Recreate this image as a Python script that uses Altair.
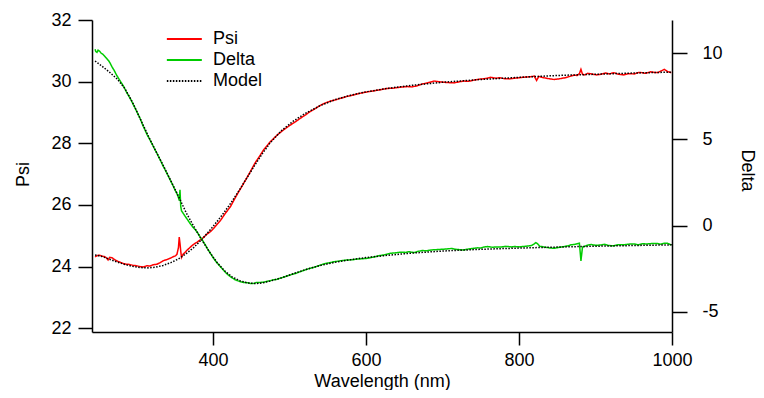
import altair as alt
import pandas as pd

# ---------------- data ----------------
psi_wl = [246, 249, 252, 255, 258, 261, 263, 265, 268, 272, 276, 280, 283, 287, 291, 296, 300, 305, 309, 314,
          318, 322, 327, 331, 335, 340, 344, 348, 351, 353, 355, 356, 357, 358, 359, 361, 363, 366, 370, 374,
          379, 383, 388, 392, 397, 401, 405, 410, 416, 423, 428, 433, 439, 445, 450, 455, 461, 466, 471, 475,
          480, 484, 492, 501, 508, 514, 521, 527, 534, 541, 547, 554, 560, 567, 575, 584, 592, 602, 610, 619,
          628, 636, 645, 654, 660, 666, 673, 680, 685, 689, 695, 702, 708, 715, 721, 728, 734, 741, 748, 756,
          763, 770, 775, 780, 787, 794, 801, 809, 815, 820, 823, 826, 830, 838, 846, 852, 859, 865, 872, 876,
          879, 881, 883, 886, 890, 895, 901, 907, 913, 918, 924, 930, 937, 943, 951, 955, 959, 965, 972, 977,
          982, 986, 990, 994, 999]
psi_val = [24.32, 24.36, 24.37, 24.34, 24.33, 24.28, 24.22, 24.30, 24.29, 24.22, 24.17, 24.13, 24.10, 24.08, 24.07, 24.04, 24.03, 24.00, 23.99, 24.03,
           24.02, 24.06, 24.08, 24.13, 24.19, 24.23, 24.27, 24.32, 24.35, 24.40, 24.62, 24.96, 24.75, 24.50, 24.30, 24.40, 24.45, 24.53, 24.62, 24.71,
           24.79, 24.86, 24.95, 25.05, 25.14, 25.24, 25.36, 25.50, 25.72, 25.95, 26.18, 26.40, 26.65, 26.91, 27.13, 27.36, 27.58, 27.78, 27.93, 28.05,
           28.17, 28.27, 28.43, 28.59, 28.70, 28.81, 28.92, 29.03, 29.13, 29.24, 29.31, 29.37, 29.41, 29.46, 29.52, 29.57, 29.62, 29.67, 29.70, 29.74,
           29.78, 29.79, 29.82, 29.84, 29.83, 29.86, 29.92, 29.96, 29.99, 30.02, 30.00, 29.98, 29.97, 29.96, 29.99, 30.02, 30.01, 30.05, 30.08, 30.10,
           30.14, 30.11, 30.13, 30.10, 30.09, 30.11, 30.13, 30.15, 30.16, 30.18, 30.04, 30.17, 30.14, 30.10, 30.07, 30.09, 30.12, 30.16, 30.21, 30.20,
           30.26, 30.40, 30.24, 30.22, 30.27, 30.25, 30.22, 30.24, 30.28, 30.25, 30.29, 30.24, 30.22, 30.26, 30.25, 30.29, 30.30, 30.27, 30.32, 30.30,
           30.30, 30.35, 30.40, 30.33, 30.29]

delta_wl = [246, 247, 248.5, 250, 252, 254, 256, 258, 261, 264, 266, 268, 271, 274, 278, 283, 287, 292, 296, 300,
            305, 309, 314, 318, 322, 327, 331, 335, 340, 344, 348, 351, 353, 355, 356, 357, 358, 359, 361, 364,
            367, 370, 374, 377, 380, 383, 387, 390, 393, 397, 400, 403, 406, 410, 413, 416, 419, 423, 426, 429,
            432, 436, 440, 445, 449, 453, 457, 462, 466, 471, 475, 479, 484, 488, 494, 501, 508, 514, 521, 527,
            534, 541, 547, 554, 558, 565, 575, 582, 588, 595, 602, 610, 616, 624, 632, 638, 645, 652, 656, 663,
            668, 674, 679, 685, 692, 699, 706, 712, 717, 722, 728, 734, 741, 746, 750, 754, 759, 765, 771, 776,
            783, 790, 794, 801, 809, 813, 817, 820, 822, 824, 827, 833, 840, 846, 851, 855, 860, 864, 868, 872,
            876, 879, 881, 883, 885, 889, 894, 900, 907, 912, 917, 924, 930, 937, 943, 951, 956, 961, 968, 974,
            980, 985, 990, 994, 999]
delta_val = [10.23, 10.10, 10.05, 10.18, 10.12, 10.00, 9.95, 9.86, 9.71, 9.55, 9.40, 9.22, 9.00, 8.74, 8.45, 8.10, 7.75, 7.37, 7.02, 6.66,
             6.20, 5.76, 5.28, 4.95, 4.60, 4.18, 3.82, 3.45, 3.02, 2.66, 2.30, 2.02, 1.85, 1.62, 1.45, 2.07, 1.10, 0.85, 0.72, 0.52,
             0.33, 0.13, -0.10, -0.24, -0.42, -0.64, -0.90, -1.12, -1.35, -1.63, -1.85, -2.03, -2.20, -2.40, -2.55, -2.70, -2.83, -2.97, -3.06, -3.15,
             -3.20, -3.26, -3.30, -3.32, -3.36, -3.36, -3.31, -3.30, -3.29, -3.24, -3.20, -3.15, -3.12, -3.06, -2.97, -2.87, -2.78, -2.68, -2.57, -2.48,
             -2.40, -2.29, -2.20, -2.15, -2.10, -2.06, -2.00, -1.99, -1.95, -1.93, -1.90, -1.83, -1.76, -1.70, -1.61, -1.59, -1.55, -1.56, -1.52, -1.57,
             -1.50, -1.45, -1.47, -1.42, -1.40, -1.38, -1.36, -1.33, -1.38, -1.40, -1.42, -1.36, -1.32, -1.29, -1.31, -1.25, -1.22, -1.26, -1.24, -1.25,
             -1.21, -1.24, -1.22, -1.24, -1.20, -1.18, -1.15, -1.06, -0.99, -1.05, -1.20, -1.25, -1.30, -1.32, -1.28, -1.25, -1.21, -1.18, -1.12, -1.10,
             -1.06, -1.03, -2.05, -1.25, -1.22, -1.15, -1.10, -1.15, -1.13, -1.09, -1.16, -1.18, -1.11, -1.12, -1.08, -1.07, -1.12, -1.06, -1.07, -1.04,
             -1.04, -1.08, -1.03, -1.03, -1.13]

model_wl = [246, 255, 265, 275, 285, 295, 305, 315, 325, 335, 345, 355, 365, 375, 385, 395, 405, 415, 425, 435,
            445, 455, 465, 475, 490, 505, 520, 540, 560, 580, 600, 630, 660, 700, 750, 800, 850, 900, 950, 1000]
model_psi = [24.38, 24.33, 24.24, 24.15, 24.07, 24.01, 23.97, 23.96, 23.98, 24.04, 24.13, 24.25, 24.42, 24.62, 24.87, 25.15, 25.45, 25.77, 26.12, 26.50,
             26.90, 27.30, 27.68, 28.02, 28.42, 28.72, 28.96, 29.22, 29.42, 29.56, 29.67, 29.79, 29.88, 29.98, 30.07, 30.14, 30.20, 30.24, 30.28, 30.31]
model_delta = [9.55, 9.25, 8.90, 8.50, 7.95, 7.15, 6.20, 5.25, 4.35, 3.50, 2.60, 1.70, 0.75, -0.05, -0.80, -1.50, -2.12, -2.62, -2.98, -3.20,
               -3.33, -3.37, -3.33, -3.22, -3.03, -2.80, -2.57, -2.32, -2.13, -1.98, -1.86, -1.72, -1.60, -1.48, -1.38, -1.31, -1.25, -1.20, -1.16, -1.12]

series_names = ["Psi", "Delta", "Model"]
series_colors = ["#ff0000", "#00cc00", "#000000"]
psi_ticks = [22, 24, 26, 28, 30, 32]
delta_ticks = [-5, 0, 5, 10]
wl_ticks = [400, 600, 800, 1000]

df_psi = pd.DataFrame({"wl": psi_wl, "v": psi_val, "s": "Psi"})
df_delta = pd.DataFrame({"wl": delta_wl, "v": delta_val, "s": "Delta"})
df_mpsi = pd.DataFrame({"wl": model_wl, "v": model_psi, "s": "Model"})
df_mdelta = pd.DataFrame({"wl": model_wl, "v": model_delta, "s": "Model"})

FONT = "Liberation Sans"
PLAIN = "datum.value + ''"

x_enc = alt.X("wl:Q",
              scale=alt.Scale(domain=[242, 1000], nice=False, zero=False),
              axis=alt.Axis(values=wl_ticks, title="Wavelength (nm)", tickSize=13,
                            labelPadding=6, labelFlush=False, labelExpr=PLAIN,
                            titleX=290, titleY=54, titleAlign="center", titleBaseline="alphabetic"))

# line-shaped legend symbol: a horizontal path, scaled by sqrt(size)/2
legend = alt.Legend(title=None, orient="none", legendX=95, legendY=10,
                    symbolType="M-5,0H1", symbolSize=136, symbolStrokeWidth=2,
                    labelFont=FONT, labelFontSize=18, labelOffset=8, rowPadding=3,
                    padding=0, labelColor="black")

color_enc = alt.Color("s:N", scale=alt.Scale(domain=series_names, range=series_colors), legend=legend)
dash_enc = alt.StrokeDash("s:N", scale=alt.Scale(domain=series_names, range=[[1, 0], [1, 0], [1.5, 1.5]]),
                          legend=legend)

y_left = alt.Y("v:Q", scale=alt.Scale(domain=[21.88, 32], nice=False, zero=False),
               axis=alt.Axis(orient="left", values=psi_ticks, title="Psi", tickSize=14,
                             labelPadding=7, labelExpr=PLAIN,
                             titleX=-64, titleY=154, titleAngle=270, titleAlign="center",
                             titleBaseline="alphabetic"))
y_right = alt.Y("v:Q", scale=alt.Scale(domain=[-6.18, 11.93], nice=False, zero=False),
                axis=alt.Axis(orient="right", values=delta_ticks, title="Delta", tickSize=15,
                              labelPadding=15, labelExpr=PLAIN,
                              titleX=69, titleY=150, titleAngle=90, titleAlign="center",
                              titleBaseline="alphabetic"))


def line(df, y):
    return alt.Chart(df).mark_line(strokeWidth=1.5).encode(
        x=x_enc, y=y, color=color_enc, strokeDash=dash_enc
    )


left = alt.layer(line(df_psi, y_left), line(df_mpsi, y_left))
right = alt.layer(line(df_delta, y_right), line(df_mdelta, y_right))

chart = alt.layer(left, right).resolve_scale(y="independent").properties(
    width=580, height=312,
    autosize=alt.AutoSizeParams(type="none"),
    padding={"left": 84, "top": 12, "right": 84, "bottom": 58},
).configure_view(stroke=None).configure_axis(
    grid=False, domainColor="black", tickColor="black", labelColor="black", titleColor="black",
    domainWidth=1.5, tickWidth=1.5, labelFont=FONT, titleFont=FONT, labelFontSize=18,
    titleFontSize=18, titleFontWeight="normal"
)

chart.save("out.html", embed_options={"renderer": "svg", "actions": False})
